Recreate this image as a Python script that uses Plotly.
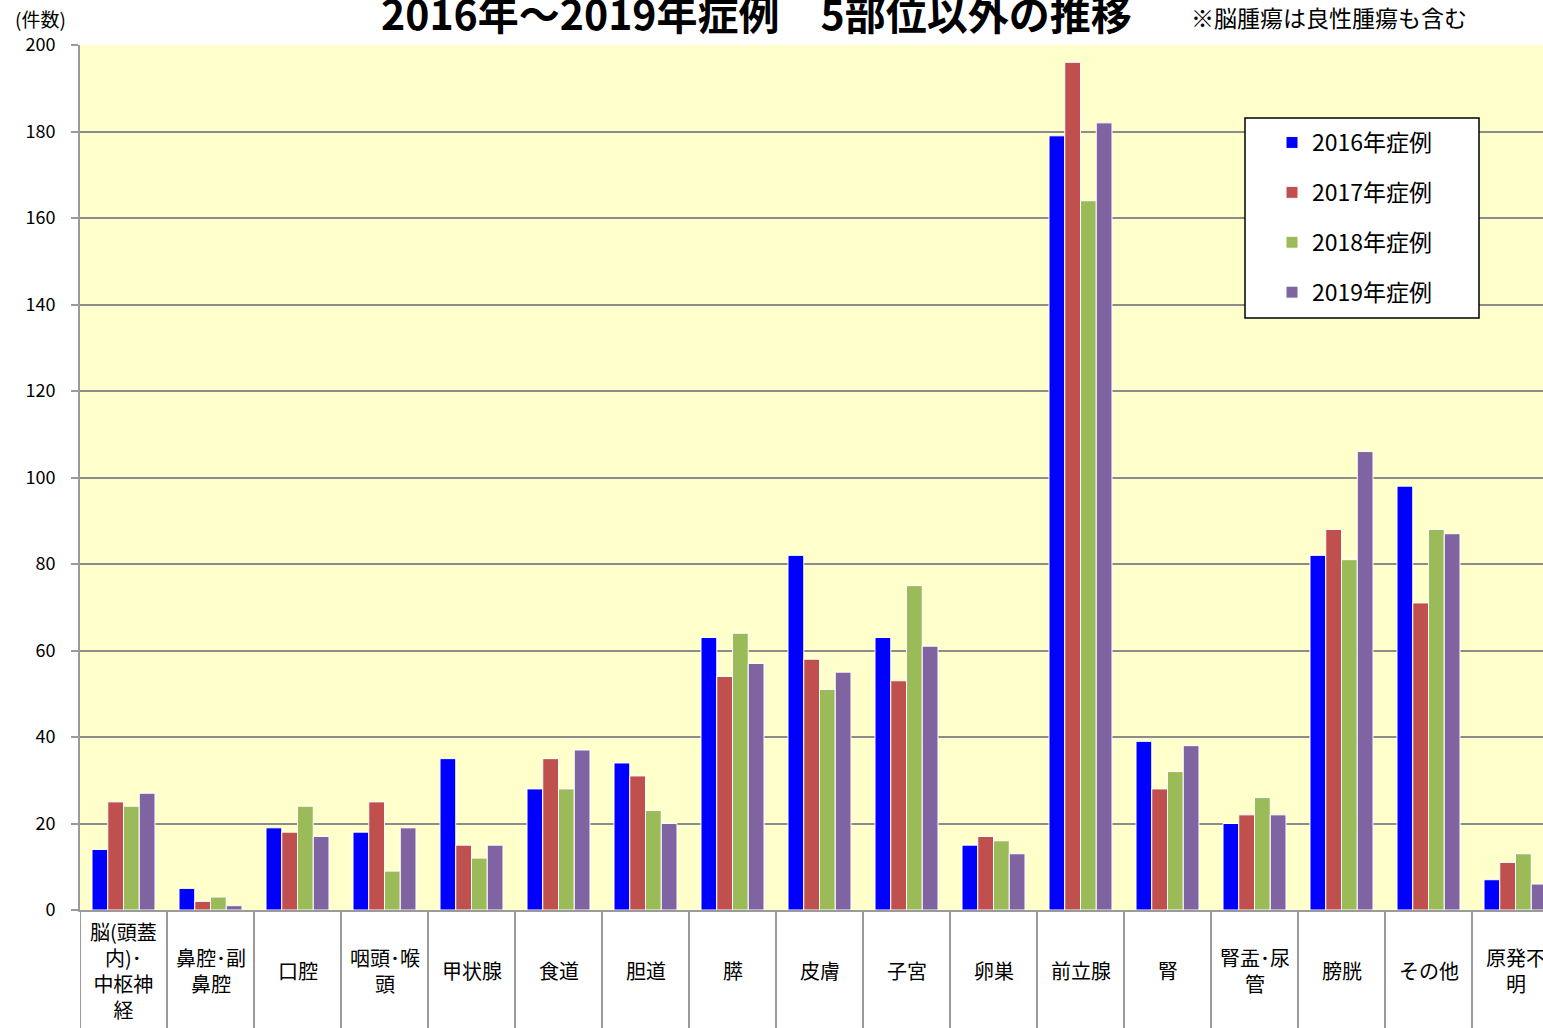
import plotly.graph_objects as go

categories = ["脳(頭蓋<br>内)･<br>中枢神<br>経", "鼻腔･副<br>鼻腔", "口腔", "咽頭･喉<br>頭", "甲状腺", "食道",
              "胆道", "膵", "皮膚", "子宮", "卵巣", "前立腺", "腎", "腎盂･尿<br>管", "膀胱", "その他", "原発不<br>明"]
series_names = ["2016年症例", "2017年症例", "2018年症例", "2019年症例"]
v2016 = [14, 5, 19, 18, 35, 28, 34, 63, 82, 63, 15, 179, 39, 20, 82, 98, 7]
v2017 = [25, 2, 18, 25, 15, 35, 31, 54, 58, 53, 17, 196, 28, 22, 88, 71, 11]
v2018 = [24, 3, 24, 9, 12, 28, 23, 64, 51, 75, 16, 164, 32, 26, 81, 88, 13]
v2019 = [27, 1, 17, 19, 15, 37, 20, 57, 55, 61, 13, 182, 38, 22, 106, 87, 6]
colors = ["#0000FF", "#C0504D", "#9BBB59", "#8064A2"]
y_ticks = [0, 20, 40, 60, 80, 100, 120, 140, 160, 180, 200]

FONT = "Noto Sans CJK JP"
W, H = 1543, 1028
ML, MR, MT, MB = 80, 0, 45, 118
pw, ph = W - ML - MR, H - MT - MB
CAT_W = 87.0

def px_x(p):
    return (p - ML) / pw

def px_y(p):
    return (H - MB - p) / ph

idx = list(range(len(categories)))
fig = go.Figure()
for name, vals, col in zip(series_names, [v2016, v2017, v2018, v2019], colors):
    fig.add_trace(go.Bar(x=idx, y=vals, name=name, legendgroup=name,
                         marker=dict(color=col, line=dict(color="white", width=1))))

annotations = []
for i, lab in enumerate(categories):
    annotations.append(dict(x=i, xref="x", y=px_y(970), yref="paper", text=lab, showarrow=False,
                            xanchor="center", yanchor="middle", align="center",
                            font=dict(family=FONT, size=20, color="black")))
annotations.append(dict(x=px_x(756), xref="paper", y=px_y(12), yref="paper",
                        text="<b>2016年～2019年症例　5部位以外の推移</b>", showarrow=False,
                        xanchor="center", yanchor="middle",
                        font=dict(family=FONT, size=41, color="black")))
annotations.append(dict(x=px_x(1329), xref="paper", y=px_y(17), yref="paper",
                        text="※脳腫瘍は良性腫瘍も含む", showarrow=False,
                        xanchor="center", yanchor="middle",
                        font=dict(family=FONT, size=23, color="black")))
annotations.append(dict(x=px_x(40), xref="paper", y=px_y(18), yref="paper",
                        text="(件数)", showarrow=False,
                        xanchor="center", yanchor="middle",
                        font=dict(family=FONT, size=19, color="black")))

shapes = []
for i in range(len(categories) + 1):
    shapes.append(dict(type="line", xref="x", yref="paper", x0=i - 0.5, x1=i - 0.5,
                       y0=0, y1=px_y(H + 5), line=dict(color="#9a9a9a", width=2)))
shapes.append(dict(type="rect", xref="paper", yref="paper", x0=px_x(1245), x1=px_x(1479),
                   y0=px_y(318), y1=px_y(118), fillcolor="white",
                   line=dict(color="black", width=1.5), layer="above"))

fig.update_layout(
    width=W, height=H,
    margin=dict(l=ML, r=MR, t=MT, b=MB, pad=0),
    paper_bgcolor="white", plot_bgcolor="#FFFFCC",
    barmode="group", bargap=0.276, bargroupgap=0,
    font=dict(family=FONT, color="black"),
    showlegend=True,
    legend=dict(x=px_x(1272), y=px_y(121), xanchor="left", yanchor="top",
                bgcolor="rgba(0,0,0,0)", borderwidth=0,
                font=dict(family=FONT, size=23, color="black"),
                traceorder="grouped", tracegroupgap=17),
    annotations=annotations, shapes=shapes,
)
fig.update_xaxes(range=[-0.5, -0.5 + pw / CAT_W],
                 showticklabels=False, showgrid=False, zeroline=False,
                 showline=True, linecolor="#9a9a9a", linewidth=2, ticks="", fixedrange=True)
fig.update_yaxes(range=[0, 200], tickvals=y_ticks, showgrid=True, gridcolor="#8c8c8c", gridwidth=1.5,
                 zeroline=False, showline=True, linecolor="#9a9a9a", linewidth=2,
                 ticks="outside", ticklen=7, tickcolor="#9a9a9a", tickwidth=2,
                 ticklabelstandoff=12,
                 tickfont=dict(family=FONT, size=18, color="black"))

fig.write_html("out.html", config={"displayModeBar": False},
               post_script="document.body.style.margin='0';")
